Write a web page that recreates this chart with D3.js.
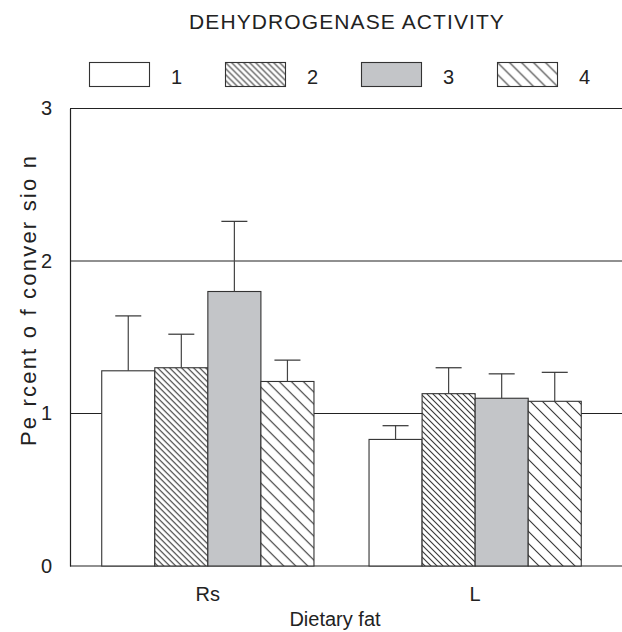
<!DOCTYPE html>
<html><head><meta charset="utf-8">
<script src="https://cdn.jsdelivr.net/npm/d3@7"></script>
<style>body{margin:0;background:#fff}svg{display:block;font-family:"Liberation Sans",Arial,sans-serif}</style>
</head><body><svg id="c" width="622" height="632"></svg>
<script>
const groups = ["Rs", "L"];
const series = ["1", "2", "3", "4"];
const means = {Rs: [1.28, 1.30, 1.80, 1.21], L: [0.83, 1.13, 1.10, 1.08]};
const errs  = {Rs: [1.64, 1.52, 2.26, 1.35], L: [0.92, 1.30, 1.26, 1.27]};
const yTicks = [0, 1, 2, 3];
const fills = ["#ffffff", "url(#h2)", "#c3c5c8", "url(#h4)"];

const svg = d3.select("#c");
const defs = svg.append("defs");
function hatch(id, size, sw) {
  const p = defs.append("pattern").attr("id", id).attr("patternUnits", "userSpaceOnUse")
    .attr("width", size).attr("height", size);
  p.append("rect").attr("width", size).attr("height", size).attr("fill", "#fff");
  p.append("path").attr("d", `M0,0L${size},${size}M${-size},0L${size},${2*size}M0,${-size}L${2*size},${size}`)
    .attr("stroke", "#333").attr("stroke-width", sw);
}
hatch("h2", 6, 1.1);
hatch("h4", 12, 1.1);

const axX = 70, right = 622;
const y = d3.scaleLinear().domain([0, 3]).range([566, 108.5]);
const x0 = d3.scaleBand().domain(groups).range([75, 608]).paddingInner(0.206).paddingOuter(0.1);
const x1 = d3.scaleBand().domain(series).range([0, x0.bandwidth()]);

// gridlines
svg.append("g").selectAll("line").data(yTicks.filter(d => d > 0)).join("line")
  .attr("x1", axX).attr("x2", right).attr("y1", d => y(d)).attr("y2", d => y(d))
  .attr("stroke", "#222").attr("stroke-width", 1.2);

// y axis
const ya = svg.append("g").attr("transform", `translate(${axX},0)`)
  .call(d3.axisLeft(y).tickValues(yTicks).tickFormat(d3.format("d")).tickSize(0).tickPadding(18));
ya.select(".domain").attr("stroke", "#222").attr("stroke-width", 1.2);
ya.selectAll("text").attr("font-size", 20).attr("fill", "#222").attr("font-family", "Liberation Sans, Arial, sans-serif");

// bottom line
svg.append("line").attr("x1", axX).attr("x2", right).attr("y1", y(0)).attr("y2", y(0))
  .attr("stroke", "#222").attr("stroke-width", 1.2);

// bars
const g = svg.append("g").selectAll("g").data(groups).join("g")
  .attr("transform", d => `translate(${x0(d)},0)`);
g.selectAll("rect").data(d => series.map((s, i) => ({s, i, v: means[d][i]}))).join("rect")
  .attr("x", d => x1(d.s)).attr("width", x1.bandwidth())
  .attr("y", d => y(d.v)).attr("height", d => y(0) - y(d.v))
  .attr("fill", d => fills[d.i]).attr("stroke", "#333").attr("stroke-width", 1.1);
// error bars
g.selectAll("g.err").data(d => series.map((s, i) => ({s, i, v: means[d][i], e: errs[d][i]}))).join("g")
  .attr("class", "err").each(function(d) {
    const cx = x1(d.s) + x1.bandwidth() / 2;
    const e = d3.select(this);
    e.append("line").attr("x1", cx).attr("x2", cx).attr("y1", y(d.v)).attr("y2", y(d.e))
      .attr("stroke", "#444").attr("stroke-width", 1.2);
    e.append("line").attr("x1", cx - 13).attr("x2", cx + 13).attr("y1", y(d.e)).attr("y2", y(d.e))
      .attr("stroke", "#333").attr("stroke-width", 1.2);
  });

// x labels
svg.append("g").selectAll("text").data(groups).join("text")
  .attr("x", d => x0(d) + x0.bandwidth() / 2).attr("y", 601).attr("text-anchor", "middle")
  .attr("font-size", 20).attr("fill", "#222").text(d => d);

svg.append("text").attr("x", 335).attr("y", 626).attr("text-anchor", "middle")
  .attr("font-size", 20).attr("fill", "#222").text("Dietary fat");

svg.append("text").attr("transform", "translate(36,300) rotate(-90)").attr("text-anchor", "middle")
  .attr("font-size", 22).attr("fill", "#222").attr("xml:space", "preserve")
  .attr("letter-spacing", 2.2).text("Pe rcent o f conver sio n");

svg.append("text").attr("x", 347).attr("y", 29).attr("text-anchor", "middle")
  .attr("font-size", 21).attr("fill", "#222").attr("letter-spacing", 1.1)
  .text("DEHYDROGENASE ACTIVITY");

// legend
const lg = svg.append("g").selectAll("g").data(series).join("g")
  .attr("transform", (d, i) => `translate(${89.5 + i * 136},62.5)`);
lg.append("rect").attr("width", 60).attr("height", 24).attr("fill", (d, i) => fills[i])
  .attr("stroke", "#333").attr("stroke-width", 1.1);
lg.append("text").attr("x", 87).attr("y", 21).attr("text-anchor", "middle")
  .attr("font-size", 20).attr("fill", "#222").text(d => d);
</script></body></html>
